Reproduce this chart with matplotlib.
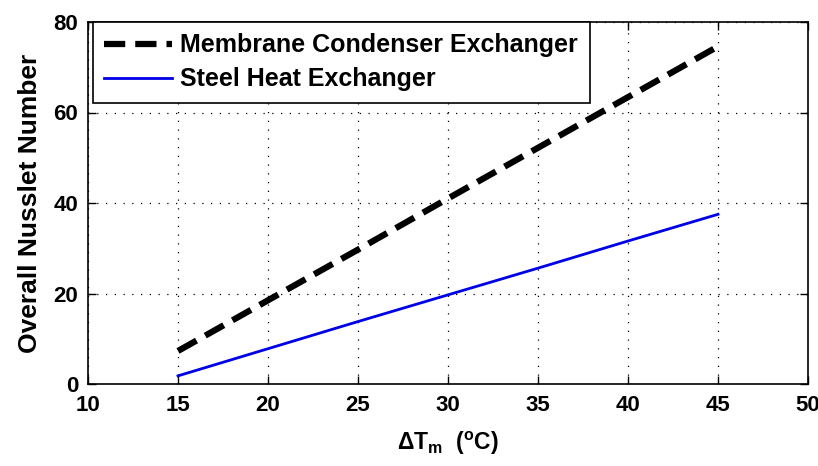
import numpy as np
import matplotlib
matplotlib.use('Agg')
import matplotlib.pyplot as plt

plt.rcParams['font.family'] = ['Liberation Sans', 'DejaVu Sans']
plt.rcParams['mathtext.fontset'] = 'custom'
plt.rcParams['mathtext.rm'] = 'Liberation Sans:bold'
plt.rcParams['mathtext.bf'] = 'Liberation Sans:bold'

# data
dt = [15, 20, 25, 30, 35, 40, 45]
membrane = [7.3, 18.5, 29.7, 41.0, 52.2, 63.4, 74.6]
steel = [1.8, 7.8, 13.8, 19.7, 25.6, 31.6, 37.5]
xticks = [10, 15, 20, 25, 30, 35, 40, 45, 50]
yticks = [0, 20, 40, 60, 80]

fig = plt.figure(figsize=(8.18, 4.66), dpi=100, facecolor='white')
ax = fig.add_axes([88/818, 1-384/466, (808-88)/818, (384-22)/466])

ax.plot(dt, membrane, color='black', linestyle=(0, (3.4, 1.6)), lw=4.5,
        label='Membrane Condenser Exchanger')
ax.plot(dt, steel, color='#0000e6', lw=2, label='Steel Heat Exchanger')

ax.set_xlim(10, 50)
ax.set_ylim(0, 80)
ax.set_xticks(xticks)
ax.set_yticks(yticks)
ax.grid(True, color='black', linestyle=(0, (1, 6)), lw=0.9)
ax.tick_params(direction='in', top=True, right=True, length=6, width=1,
               labelsize=16)
ax.tick_params(axis='x', pad=8)
ax.tick_params(axis='y', pad=7)
for lab in ax.get_xticklabels() + ax.get_yticklabels():
    lab.set_fontweight('bold')
for sp in ax.spines.values():
    sp.set_linewidth(1.2)

ax.set_ylabel('Overall Nusslet Number', fontsize=19, fontweight='bold',
              labelpad=8)
ax.set_xlabel(r'$\Delta$T$_\mathregular{m}$  ($^\mathregular{o}$C)',
              fontsize=16.5, fontweight='bold', labelpad=10)

leg = ax.legend(loc='upper left', bbox_to_anchor=(5/720, 1.0),
                prop={'weight': 'bold', 'size': 18},
                frameon=True, fancybox=False, borderaxespad=0, handlelength=2.7,
                handletextpad=0.35, borderpad=0.45, labelspacing=0.4)
leg.get_frame().set_edgecolor('black')
leg.get_frame().set_linewidth(1.2)
leg.get_frame().set_alpha(1)

fig.savefig('out.png', dpi=100, facecolor='white')
